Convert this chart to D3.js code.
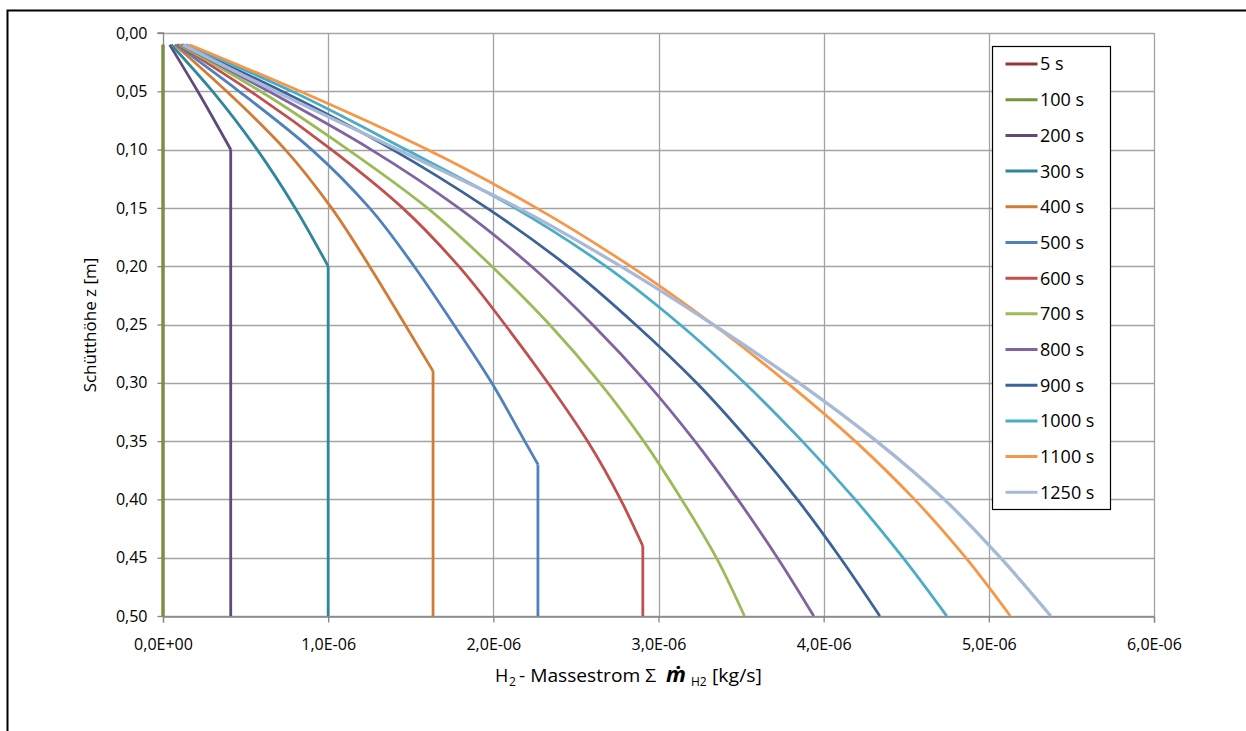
<!DOCTYPE html>
<html>
<head>
<meta charset="utf-8">
<script src="https://cdn.jsdelivr.net/npm/d3@7"></script>
<style>
  html, body { margin: 0; padding: 0; background: #fff; }
  svg { display: block; font-family: "Open Sans", "Liberation Sans", sans-serif; }
</style>
</head>
<body>
<svg id="chart" width="1246" height="731"></svg>
<script>
// ---- data (x values in units of 1e-6 kg/s, z in m) ----
const seriesNames = ["5 s","100 s","200 s","300 s","400 s","500 s","600 s","700 s","800 s","900 s","1000 s","1100 s","1250 s"];
const seriesColors = ["#953735","#77933C","#604A7B","#31859C","#D27B34","#4F81BD","#C0504D","#9BBB59","#8064A2","#3C6399","#4BACC6","#F79646","#A7B9D7"];

// curved part of each profile: [z, massflow]
const s5    = [[0.01,0],[0.50,0]];
const s100  = [[0.01,0],[0.50,0]];
const s200  = [[0.01,0.04],[0.05,0.21],[0.10,0.41]];
const s300  = [[0.01,0.05],[0.05,0.30],[0.10,0.57],[0.15,0.80],[0.20,1.00]];
const s400  = [[0.01,0.07],[0.05,0.385],[0.10,0.74],[0.15,1.02],[0.20,1.25],[0.25,1.465],[0.29,1.635]];
const s500  = [[0.01,0.08],[0.05,0.46],[0.10,0.90],[0.15,1.25],[0.20,1.52],[0.25,1.76],[0.30,1.99],[0.35,2.19],[0.37,2.27]];
const s600  = [[0.01,0.09],[0.05,0.53],[0.10,1.02],[0.15,1.45],[0.20,1.79],[0.25,2.07],[0.30,2.33],[0.35,2.57],[0.40,2.77],[0.44,2.905]];
const s700  = [[0.01,0.10],[0.05,0.59],[0.10,1.12],[0.15,1.60],[0.20,1.99],[0.25,2.34],[0.30,2.645],[0.35,2.91],[0.40,3.14],[0.45,3.35],[0.50,3.52]];
const s800  = [[0.01,0.11],[0.05,0.64],[0.10,1.26],[0.15,1.79],[0.20,2.23],[0.25,2.60],[0.30,2.93],[0.35,3.22],[0.40,3.48],[0.45,3.72],[0.50,3.94]];
const s900  = [[0.01,0.12],[0.05,0.72],[0.10,1.39],[0.15,1.96],[0.20,2.45],[0.25,2.86],[0.30,3.23],[0.35,3.55],[0.40,3.84],[0.45,4.10],[0.50,4.34]];
const s1000 = [[0.01,0.14],[0.05,0.78],[0.10,1.47],[0.15,2.13],[0.20,2.68],[0.25,3.13],[0.30,3.52],[0.35,3.87],[0.40,4.19],[0.45,4.48],[0.50,4.745]];
const s1100 = [[0.01,0.16],[0.05,0.83],[0.10,1.60],[0.15,2.26],[0.20,2.83],[0.25,3.33],[0.30,3.78],[0.35,4.19],[0.40,4.55],[0.45,4.86],[0.50,5.13]];
const s1250 = [[0.01,0.12],[0.05,0.68],[0.10,1.42],[0.15,2.15],[0.20,2.77],[0.25,3.33],[0.30,3.85],[0.35,4.32],[0.40,4.73],[0.45,5.07],[0.50,5.375]];
const seriesData = [s5,s100,s200,s300,s400,s500,s600,s700,s800,s900,s1000,s1100,s1250];

const bedBottom = 0.50;   // profiles stay constant below the front down to the bed bottom

const xTicks = [0,1,2,3,4,5,6];
const xTickLabels = ["0,0E+00","1,0E-06","2,0E-06","3,0E-06","4,0E-06","5,0E-06","6,0E-06"];
const yTicks = [0,0.05,0.10,0.15,0.20,0.25,0.30,0.35,0.40,0.45,0.50];
const yTickLabels = ["0,00","0,05","0,10","0,15","0,20","0,25","0,30","0,35","0,40","0,45","0,50"];

// ---- drawing ----
const FONT = "'Open Sans', 'Liberation Sans', sans-serif";
const svg = d3.select("#chart");
const plot = {left:163, right:1154, top:33, bottom:616};

const x = d3.scaleLinear().domain([0,6]).range([plot.left, plot.right]);
const y = d3.scaleLinear().domain([0,0.5]).range([plot.top, plot.bottom]);

// outer frame
svg.append("rect").attr("x",7.5).attr("y",10.5).attr("width",1300).attr("height",800)
  .attr("fill","none").attr("stroke","#000").attr("stroke-width",2);

// gridlines
const grid = svg.append("g");
grid.selectAll("line.h").data(yTicks).join("line")
  .attr("x1",plot.left).attr("x2",plot.right)
  .attr("y1",d=>Math.round(y(d))+0.5).attr("y2",d=>Math.round(y(d))+0.5)
  .attr("stroke","#A3A3A3").attr("stroke-width",1.3);
grid.selectAll("line.v").data(xTicks.slice(1)).join("line")
  .attr("y1",plot.top).attr("y2",plot.bottom)
  .attr("x1",d=>Math.round(x(d))+0.5).attr("x2",d=>Math.round(x(d))+0.5)
  .attr("stroke","#A3A3A3").attr("stroke-width",1.3);

// axes
const yAxis = d3.axisLeft(y).tickValues(yTicks).tickSize(6).tickPadding(10)
  .tickFormat((d,i)=>yTickLabels[i]);
const gy = svg.append("g").attr("transform",`translate(${plot.left+0.5},0)`).call(yAxis);
const xAxis = d3.axisBottom(x).tickValues(xTicks).tickSize(6).tickPadding(16)
  .tickFormat((d,i)=>xTickLabels[i]);
const gx = svg.append("g").attr("transform",`translate(0,${plot.bottom+0.5})`).call(xAxis);
[gx,gy].forEach(g=>{
  g.select(".domain").attr("stroke","#868686").attr("stroke-width",1.3);
  g.selectAll(".tick line").attr("stroke","#868686").attr("stroke-width",1.3);
  g.selectAll(".tick text").attr("fill","#000").style("font-size","16px")
    .style("font-family",FONT);
});
gy.select(".domain").attr("d",`M-6,${plot.top}H0V${plot.bottom}`);

// series
const curveLine = d3.line().x(d=>x(d[1])).y(d=>y(d[0])).curve(d3.curveMonotoneY);
const flatLine = d3.line().x(d=>x(d[1])).y(d=>y(d[0]));
const lines = svg.append("g").attr("fill","none").attr("stroke-linejoin","round");
seriesData.forEach((s,i)=>{
  const w = i===12 ? 3.3 : 2.8;
  lines.append("path").attr("d",curveLine(s)).attr("stroke",seriesColors[i]).attr("stroke-width",w);
  const last = s[s.length-1];
  if (last[0] < bedBottom) {
    lines.append("path").attr("d",flatLine([last,[bedBottom,last[1]]]))
      .attr("stroke",seriesColors[i]).attr("stroke-width",w);
  }
});

// legend
const lg = svg.append("g");
lg.append("rect").attr("x",992.5).attr("y",46.5).attr("width",118).attr("height",463)
  .attr("fill","#fff").attr("stroke","#000").attr("stroke-width",1.2);
const rowY = d3.scaleLinear().domain([0,12]).range([64,492.3]);
seriesNames.forEach((n,i)=>{
  lg.append("line").attr("x1",1005.5).attr("x2",1037.5)
    .attr("y1",rowY(i)).attr("y2",rowY(i))
    .attr("stroke",seriesColors[i]).attr("stroke-width",3);
  lg.append("text").attr("x",1040).attr("y",rowY(i)).attr("dy","0.36em")
    .style("font-size","18px").attr("fill","#000").text(n);
});

// axis titles
svg.append("text").attr("transform","translate(96,325) rotate(-90)")
  .attr("text-anchor","middle").style("font-size","17px").attr("fill","#000")
  .text("Schütthöhe z [m]");

const xt = svg.append("text").attr("y",682).attr("text-anchor","start")
  .style("font-size","18px").attr("fill","#000");
xt.append("tspan").attr("x",495).text("H");
xt.append("tspan").attr("x",509).attr("dy",4).style("font-size","12px").text("2");
xt.append("tspan").attr("x",519).attr("dy",-4)
  .attr("textLength",137).attr("lengthAdjust","spacingAndGlyphs").text("- Massestrom Σ");
xt.append("tspan").attr("x",666).style("font-weight","bold").style("font-style","italic")
  .style("font-size","22px").text("ṁ");
xt.append("tspan").attr("x",691).attr("dy",4).style("font-size","12px").text("H2");
xt.append("tspan").attr("x",712).attr("dy",-4)
  .attr("textLength",50).attr("lengthAdjust","spacingAndGlyphs").text("[kg/s]");
</script>
</body>
</html>
